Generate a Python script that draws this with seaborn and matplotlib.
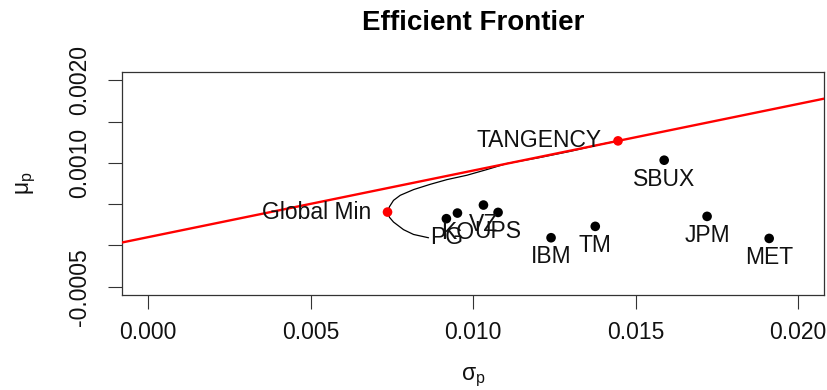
import numpy as np
import pandas as pd
import matplotlib
matplotlib.use("Agg")
import matplotlib.pyplot as plt
import seaborn as sns

# asset sd / mean
assets = ["SBUX", "JPM", "MET", "TM", "IBM", "PG", "KO", "VZ", "UPS"]
asset_sd = [0.01588, 0.01720, 0.01911, 0.01376, 0.01240, 0.00918, 0.00952, 0.01032, 0.01077]
asset_mu = [0.001032, 0.000352, 0.000085, 0.000231, 0.0000934, 0.000324, 0.000392, 0.000489, 0.000400]

# efficient frontier, from the lower end up through the global min to tangency
frontier_sd = [0.008631, 0.008169, 0.007862, 0.007554, 0.007430, 0.007369, 0.007430, 0.007554,
               0.007760, 0.008169, 0.008683, 0.009197, 0.009812, 0.010428, 0.011043,
               0.012000, 0.013000, 0.014000, 0.014460]
frontier_mu = [0.000093, 0.000133, 0.000191, 0.000283, 0.000340, 0.000404, 0.000470, 0.000546,
               0.000607, 0.000676, 0.000740, 0.000797, 0.000850, 0.000919, 0.000992,
               0.001060, 0.001140, 0.001230, 0.001266]

gmin_sd, gmin_mu = 0.007369, 0.000404
tan_sd, tan_mu = 0.014460, 0.001266
rf = 0.0001

xticks = [0.000, 0.005, 0.010, 0.015, 0.020]
xlabels = ["0.000", "0.005", "0.010", "0.015", "0.020"]
yticks = [-0.0005, 0.0, 0.0005, 0.0010, 0.0015, 0.0020]
ylabels = ["-0.0005", "", "", "0.0010", "", "0.0020"]

sns.set_theme(style="ticks")
plt.rcParams['font.family'] = ['Liberation Sans', 'DejaVu Sans']
plt.rcParams['mathtext.fontset'] = 'custom'
plt.rcParams['mathtext.rm'] = 'Liberation Sans'
plt.rcParams['mathtext.it'] = 'Liberation Sans'
plt.rcParams['text.color'] = '#111111'
plt.rcParams['axes.labelcolor'] = '#111111'

fs = 16.5
fig = plt.figure(figsize=(8.27, 3.9), dpi=100)
ax = fig.add_axes([0.1475, 0.2436, 0.849, 0.5718])

sns.lineplot(x=frontier_sd, y=frontier_mu, sort=False, estimator=None,
             color='black', lw=0.9, ax=ax, zorder=2)
ax.axline((0, rf), (tan_sd, tan_mu), color='red', lw=1.7, zorder=3)

pts = pd.DataFrame({'sd': asset_sd, 'mu': asset_mu, 'name': assets})
sns.scatterplot(data=pts, x='sd', y='mu', color='black', s=48, edgecolor='none',
                ax=ax, zorder=4)
sns.scatterplot(x=[gmin_sd, tan_sd], y=[gmin_mu, tan_mu], color='red', s=48,
                edgecolor='none', ax=ax, zorder=5)

for _, r in pts.iterrows():
    ax.annotate(r['name'], (r['sd'], r['mu']), xytext=(0, -18.4), textcoords='offset points',
                ha='center', va='baseline', fontsize=fs, zorder=6)
ax.annotate("Global Min", (gmin_sd, gmin_mu), xytext=(-11.5, -5.3), textcoords='offset points',
            ha='right', va='baseline', fontsize=fs, zorder=6)
ax.annotate("TANGENCY", (tan_sd, tan_mu), xytext=(-11.5, -4.5), textcoords='offset points',
            ha='right', va='baseline', fontsize=fs, zorder=6)

ax.set_xlim(-0.0008, 0.0208)
ax.set_ylim(-0.0006, 0.0021)
ax.set_xticks(xticks, labels=xlabels)
ax.set_yticks(yticks, labels=ylabels, rotation=90, va='center')
ax.tick_params(axis='both', length=10, width=0.8, color='#333333', labelsize=fs,
               labelcolor='#111111')
ax.tick_params(axis='x', pad=9)
ax.tick_params(axis='y', pad=12)
for s in ax.spines.values():
    s.set_visible(True)
    s.set_color('#333333')
    s.set_linewidth(0.9)

ax.set_xlabel(r'$\mathrm{\sigma_p}$', fontsize=fs)
ax.set_ylabel(r'$\mathrm{\mu_p}$', fontsize=fs)
ax.xaxis.set_label_coords(0.5, -0.315)
ax.yaxis.set_label_coords(-0.12, 0.5)
ax.set_title("Efficient Frontier", fontsize=20, fontweight='bold', pad=30, color='black')

fig.savefig("out.png", dpi=100)
